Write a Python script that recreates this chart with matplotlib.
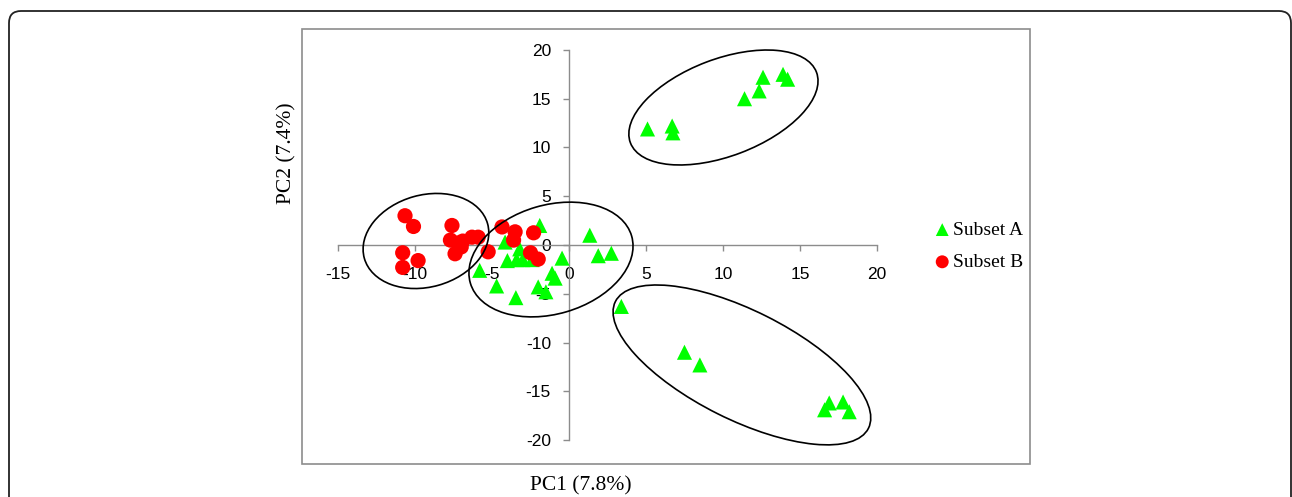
import matplotlib
matplotlib.use("Agg")
import matplotlib.pyplot as plt
from matplotlib.patches import Ellipse, Rectangle, FancyBboxPatch
from matplotlib.transforms import ScaledTranslation

plt.rcParams["axes.unicode_minus"] = False

# Subset A (green triangles)
a_x = [-1.9, 1.35, 1.9, 2.75, -4.15, -3.2, -4.0, -3.4, -3.0, -2.4, -0.45, -5.8,
       -1.1, -0.9, -4.7, -2.0, -1.5, -3.45,
       3.4, 7.5, 8.5, 16.9, 17.8, 16.6, 18.2,
       5.1, 6.7, 6.75, 11.4, 12.35, 12.6, 13.9, 14.2]
a_y = [2.0, 1.0, -1.1, -0.85, 0.3, -0.4, -1.6, -1.5, -1.5, -1.5, -1.35, -2.6,
       -2.9, -3.4, -4.2, -4.3, -4.8, -5.4,
       -6.3, -11.0, -12.3, -16.2, -16.1, -16.9, -17.1,
       11.9, 12.2, 11.5, 15.0, 15.8, 17.2, 17.5, 17.0]

# Subset B (red circles)
b_x = [-10.65, -10.1, -7.6, -7.7, -7.2, -6.9, -7.4, -6.3, -5.9, -7.0,
       -10.8, -9.8, -10.8, -5.25, -4.35, -3.5, -3.6, -2.3, -2.5, -2.0]
b_y = [3.0, 1.9, 2.0, 0.5, 0.2, 0.4, -0.9, 0.8, 0.8, -0.2,
       -0.8, -1.6, -2.3, -0.7, 1.85, 1.35, 0.5, 1.25, -0.8, -1.45]

# group ellipses: centre (data), width/height (inches on screen), angle (deg)
ell_cx = [-9.29, -1.17, 10.03, 11.23]
ell_cy = [0.41, -1.49, 14.1, -12.3]
ell_w = [1.28, 1.68, 1.99, 2.83]
ell_h = [0.92, 1.09, 0.97, 1.09]
ell_ang = [15.7, 16.3, 20.8, -26.6]

xticks = [-15, -10, -5, 0, 5, 10, 15, 20]
yticks = [-20, -15, -10, -5, 0, 5, 10, 15, 20]

fig = plt.figure(figsize=(12.92, 4.97), dpi=100)
ax = fig.add_axes([302/1292, 33/497, 728/1292, 435/497])
ax.set_xlim(-17.34, 29.94)
ax.set_ylim(-22.46, 22.15)

# outer rounded frame (inch units)
fig.patches.append(FancyBboxPatch((0.09, -0.5), 12.82, 4.97 - 0.11 + 0.5,
                                  boxstyle="round,pad=0,rounding_size=0.12",
                                  transform=fig.dpi_scale_trans, fill=False,
                                  ec="#222222", lw=1.3))

# plot area frame
ax.add_patch(Rectangle((0, 0), 1, 1, transform=ax.transAxes, fill=False,
                       ec="#8c8c8c", lw=1.2, clip_on=False))

for s in ["top", "right"]:
    ax.spines[s].set_visible(False)
ax.spines["left"].set_position(("data", 0))
ax.spines["bottom"].set_position(("data", 0))
ax.spines["left"].set_bounds(-20, 20)
ax.spines["bottom"].set_bounds(-15, 20)
for s in ["left", "bottom"]:
    ax.spines[s].set_color("#8c8c8c")
    ax.spines[s].set_linewidth(1.0)

ax.set_xticks(xticks)
ax.set_yticks(yticks)
ax.tick_params(direction="out", length=4, color="#8c8c8c", width=1.0,
               labelsize=12.5, labelfontfamily="Liberation Sans")
ax.tick_params(axis="x", pad=12)
ax.tick_params(axis="y", pad=9)

ax.scatter(a_x, a_y, marker="^", s=118, color="#00ff00", edgecolors="none",
           label="Subset A", zorder=3)
ax.scatter(b_x, b_y, marker="o", s=120, color="#ff0000", edgecolors="none",
           label="Subset B", zorder=3)

for cx, cy, w, h, ang in zip(ell_cx, ell_cy, ell_w, ell_h, ell_ang):
    tr = fig.dpi_scale_trans + ScaledTranslation(cx, cy, ax.transData)
    ax.add_patch(Ellipse((0, 0), w, h, angle=ang, transform=tr, fill=False,
                         ec="black", lw=1.2, zorder=4, clip_on=False))

fig.text(581/1292, 1 - 486/497, "PC1 (7.8%)", ha="center", va="center",
         fontsize=15.5, family="Liberation Serif")
fig.text(287/1292, 1 - 153/497, "PC2 (7.4%)", ha="center", va="center",
         rotation=90, fontsize=15.5, family="Liberation Serif")

ax.legend(loc="center left", bbox_to_anchor=(915/1292, 1 - 246/497),
          bbox_transform=fig.transFigure, frameon=False, handletextpad=0.05,
          handlelength=1.0, labelspacing=0.75, markerscale=0.85,
          prop={"family": "Liberation Serif", "size": 14})

fig.savefig("out.png", dpi=100)
